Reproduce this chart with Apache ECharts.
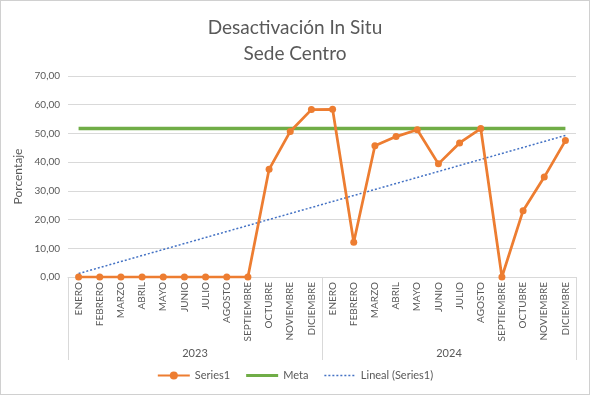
<!DOCTYPE html>
<html><head><meta charset="utf-8">
<script src="https://cdn.jsdelivr.net/npm/echarts@6/dist/echarts.min.js"></script>
<style>
html,body{margin:0;padding:0;background:#fff;}
#c{width:588px;height:393px;border:1px solid #d0d0d0;}
</style></head>
<body><div id="c"></div>
<script>
const months = ['ENERO','FEBRERO','MARZO','ABRIL','MAYO','JUNIO','JULIO','AGOSTO','SEPTIEMBRE','OCTUBRE','NOVIEMBRE','DICIEMBRE',
                'ENERO','FEBRERO','MARZO','ABRIL','MAYO','JUNIO','JULIO','AGOSTO','SEPTIEMBRE','OCTUBRE','NOVIEMBRE','DICIEMBRE'];
const years = ['2023','2024'];
const series1 = [0,0,0,0,0,0,0,0,0,37.5,50.7,58.3, 58.4,12.1,45.7,48.9,51.3,39.4,46.7,51.7,0,23.1,34.8,47.5];
const meta = [51.7,51.7,51.7,51.7,51.7,51.7,51.7,51.7,51.7,51.7,51.7,51.7,51.7,51.7,51.7,51.7,51.7,51.7,51.7,51.7,51.7,51.7,51.7,51.7];
const trendEnds = [1.2, 49.3];
const yTicks = [0,10,20,30,40,50,60,70];

const trendData = months.map((m,i)=> i===0 ? trendEnds[0] : (i===months.length-1 ? trendEnds[1] : null));
const txt = '#595959';
const font = 'Lato, "Open Sans", sans-serif';
let dots = '';
for (let k = 0; k < 8; k++) { dots += 'M' + (k*4) + ',4.3H' + (k*4+2) + 'V5.7H' + (k*4) + 'Z'; }
const metaIcon = 'path://M0,3.5H32V6.5H0Z';
const trendIcon = 'path://' + dots + 'M0,0H0.01V0.01H0ZM31,10H31.01V10.01H31Z';
const chart = echarts.init(document.getElementById('c'));
chart.setOption({
  animation:false,
  textStyle:{fontFamily:font},
  title:{text:'Desactivación In Situ\nSede Centro', left:'center', top:9,
    textStyle:{fontFamily:font,fontSize:19,fontWeight:'normal',color:txt,lineHeight:26}},
  legend:{bottom:8, left:'center', itemWidth:32, itemHeight:10, itemGap:16,
    textStyle:{color:txt,fontSize:11,fontFamily:font},
    data:['Series1',{name:'Meta',icon:metaIcon},{name:'Lineal (Series1)',icon:trendIcon}]},
  grid:{left:67, right:13, top:75, bottom:117, containLabel:false},
  xAxis:[
    {type:'category', data:months, boundaryGap:true,
     axisLine:{lineStyle:{color:'#d9d9d9'}}, axisTick:{show:false},
     axisLabel:{rotate:90, interval:0, color:txt, fontSize:10, margin:5, fontFamily:font}},
    {type:'category', data:years, position:'bottom', offset:83, boundaryGap:true,
     axisLine:{show:false},
     axisTick:{show:true, inside:true, length:83, lineStyle:{color:'#d9d9d9'}},
     axisLabel:{inside:true, margin:1, color:txt, fontSize:11, fontFamily:font}}
  ],
  yAxis:{type:'value', min:yTicks[0], max:yTicks[yTicks.length-1], interval:10,
    name:'Porcentaje', nameLocation:'middle', nameGap:36,
    nameTextStyle:{color:txt,fontSize:12,fontFamily:font},
    axisLine:{show:false}, axisTick:{show:false},
    axisLabel:{color:txt,fontSize:10,fontFamily:font,formatter:v=>v.toFixed(2).replace('.',',')},
    splitLine:{lineStyle:{color:'#d9d9d9'}}},
  series:[
    {name:'Meta', type:'line', data:meta, symbol:'none', z:2,
     lineStyle:{color:'#70AD47', width:3.5}, itemStyle:{color:'#70AD47'}},
    {name:'Lineal (Series1)', type:'line', data:trendData, connectNulls:true, symbol:'none', z:3,
     lineStyle:{color:'#4472C4', width:1.5, type:[2,2]}, itemStyle:{color:'#4472C4'}},
    {name:'Series1', type:'line', data:series1, symbol:'circle', symbolSize:7, z:4,
     lineStyle:{color:'#ED7D31', width:2.75}, itemStyle:{color:'#ED7D31'}}
  ]
});
</script></body></html>
